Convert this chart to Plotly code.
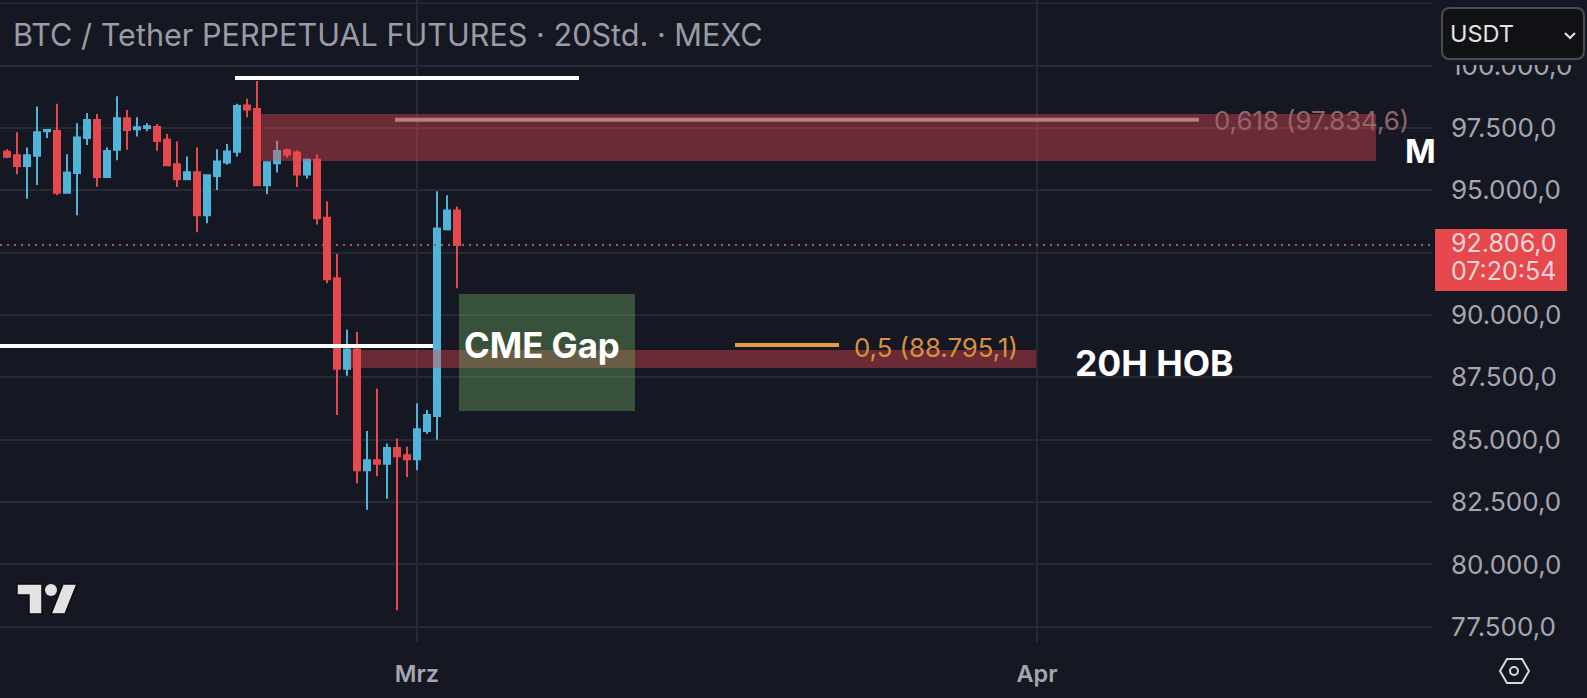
import pandas as pd
import plotly.graph_objects as go

W, H = 1587, 698
PLOT_R, PLOT_B = 1432, 642

opens  = [96546,96411,95981,96384,97366,97379,94906,95699,97097,97823,95538,96626,97890,97446,97500,97540,97030,96048,95444,95726,94006,95578,96116,96546,98400,98266,95202,96089,96613,96519,95632,96223,93898,91479,87850,88616,83777,84180,84033,84664,84382,84221,85350,85955,93441,94194]
highs  = [96653,97325,96720,98360,97460,98468,96452,97688,98105,98064,96720,98777,98226,97930,97688,97661,97258,96962,96358,96720,95605,96653,96855,98468,98669,99385,96129,96989,96680,96613,96277,96452,94557,92447,89422,89328,85350,87043,84852,85054,84718,86465,86196,94960,94799,94355]
lows   = [96290,95645,94664,95215,97097,94799,94880,94006,96815,95148,95538,96210,96626,97164,97366,96586,96008,95135,95444,93320,93683,95014,96022,96358,97930,95202,94839,95712,96317,95135,95471,93629,91277,85995,87567,83240,82191,83535,82635,78159,83508,83777,85229,85000,93441,91076]
closes = [96344,95981,96411,97325,97420,94906,95712,97124,97823,95538,96573,97890,97419,97527,97567,96976,96008,95444,95726,94006,95605,96156,96559,98387,98239,95202,96129,96573,96438,95632,96223,93885,91439,87850,88616,83777,84180,84033,84664,84342,84221,85417,85995,93468,94194,92806]
dates = pd.date_range("2025-02-08 12:00", periods=len(opens), freq="12h")

x_range = ["2025-02-08 03:36", "2025-04-20 18:00"]
y_range = [76889, 102633]
price_ticks = [77500, 80000, 82500, 85000, 87500, 90000, 92500, 95000, 97500, 100000]
price_labels = ["77.500,0", "80.000,0", "82.500,0", "85.000,0", "87.500,0", "90.000,0", "", "95.000,0", "97.500,0", "100.000,0"]
month_ticks = ["2025-03-01", "2025-04-01"]
month_labels = ["Mrz", "Apr"]

upper_zone = ["2025-02-21 01:12", "2025-04-17 22:48", 96177, 98061]
lower_zone = ["2025-02-25 15:36", "2025-03-31 22:48", 87876, 88598]
gap_zone = ["2025-03-03 02:24", "2025-03-11 21:36", 86152, 90843]
top_line = ["2025-02-19 21:36", "2025-03-09 02:24", 99505]
left_line = ["2025-02-08 03:36", "2025-03-01 19:12", 88758]
fib_618 = ["2025-02-27 21:36", "2025-04-09 02:24", 97834.6]
fib_500 = ["2025-03-16 21:36", "2025-03-22 02:24", 88795.1]
last_price = 92806

BG = "#151722"
GRID = "#272a35"
RED = "#e5484d"
BLUE = "#50b4d8"
FONT = "Inter, sans-serif"


def px(x, y):
    return x / PLOT_R, 1 - y / PLOT_B


def poly(points):
    return "M" + " L".join("%.5f,%.5f" % px(*p) for p in points) + " Z"


def box(z, fill):
    return dict(type="rect", xref="x", yref="y", x0=z[0], x1=z[1], y0=z[2], y1=z[3],
                fillcolor=fill, line_width=0, layer="above")


def seg(l, color, width, dash="solid"):
    return dict(type="line", xref="x", yref="y", x0=l[0], x1=l[1], y0=l[2], y1=l[2],
                line=dict(color=color, width=width, dash=dash), layer="above")


def label(x, y, text, size, color, anchor="left", bold=False):
    fx, fy = px(x, y)
    return dict(xref="paper", yref="paper", x=fx, y=fy, text=("<b>%s</b>" % text) if bold else text,
                showarrow=False, xanchor=anchor, yanchor="middle", borderpad=0,
                font=dict(family=FONT, size=size, color=color))


def rpx_shape(**kw):
    return dict(xref="paper", yref="paper", layer="above", **kw)


fig = go.Figure(go.Candlestick(
    x=dates, open=opens, high=highs, low=lows, close=closes,
    increasing=dict(line=dict(color=BLUE, width=2), fillcolor=BLUE),
    decreasing=dict(line=dict(color=RED, width=2), fillcolor=RED),
    hoverinfo="skip", showlegend=False,
))

shapes = [
    seg([x_range[0], x_range[1], 102500], GRID, 1.5),
    seg([x_range[0], x_range[1], last_price], "#a05a70", 2, "2px,5px"),
    box(upper_zone, "rgba(236,73,84,0.40)"),
    box(lower_zone, "rgba(236,73,84,0.40)"),
    box(gap_zone, "rgba(108,170,94,0.40)"),
    seg(top_line, "#ffffff", 4),
    seg(left_line, "#ffffff", 4),
    seg(fib_618, "#b97d84", 4),
    seg(fib_500, "#e49a42", 4),
]

# header strip that cuts off the top price label
x0, y0 = px(1434, 0)
x1, y1 = px(W, 65)
shapes.append(rpx_shape(type="rect", x0=x0, x1=x1, y0=y0, y1=y1, fillcolor=BG, line_width=0))

# price flag
x0, y0 = px(1435, 229)
x1, y1 = px(1567, 291)
shapes.append(rpx_shape(type="rect", x0=x0, x1=x1, y0=y0, y1=y1, fillcolor=RED, line_width=0))

# currency selector
x0, y0 = px(1442, 8)
x1, y1 = px(1584, 59)
rx, ry = 8 / PLOT_R, 8 / PLOT_B
shapes.append(rpx_shape(
    type="path",
    path=f"M{x0+rx},{y0} L{x1-rx},{y0} Q{x1},{y0} {x1},{y0-ry} L{x1},{y1+ry} Q{x1},{y1} {x1-rx},{y1} "
         f"L{x0+rx},{y1} Q{x0},{y1} {x0},{y1+ry} L{x0},{y0-ry} Q{x0},{y0} {x0+rx},{y0} Z",
    fillcolor="#101114", line=dict(color="#4a4c50", width=2)))
shapes.append(rpx_shape(type="path", path="M%.5f,%.5f L%.5f,%.5f L%.5f,%.5f" % (*px(1565, 33), *px(1570, 38), *px(1575, 33)),
                        line=dict(color="#e8e8e8", width=2)))

# logo
logo_edge = dict(color="#0b0b0e", width=1.5)
shapes.append(rpx_shape(type="path", path=poly([(17, 584), (42, 584), (42, 614), (29, 614), (29, 595), (17, 595)]),
                        fillcolor="#e2e2e2", line=logo_edge))
shapes.append(rpx_shape(type="path", path=poly([(63, 584), (77, 584), (65, 614), (51, 614)]),
                        fillcolor="#e2e2e2", line=logo_edge))
x0, y0 = px(45, 584)
x1, y1 = px(57, 596)
shapes.append(rpx_shape(type="circle", x0=x0, x1=x1, y0=y0, y1=y1, fillcolor="#e2e2e2", line_width=0))

# settings hexagon
shapes.append(rpx_shape(type="path", path=poly([(1500, 671), (1507, 659), (1522, 659), (1529, 671), (1522, 683), (1507, 683)]),
                        line=dict(color="#d8d9dc", width=2)))
x0, y0 = px(1510, 667)
x1, y1 = px(1518, 675)
shapes.append(rpx_shape(type="circle", x0=x0, x1=x1, y0=y0, y1=y1, line=dict(color="#d8d9dc", width=2)))

annotations = [
    label(11.5, 34, "BTC / Tether PERPETUAL FUTURES · 20Std. · MEXC", 30.6, "#9a9ca5"),
    label(1449, 33.5, "USDT", 23.5, "#e2e2e2"),
    label(1213, 121, "0,618 (97.834,6)", 25.8, "#93666d"),
    label(853, 347, "0,5 (88.795,1)", 25.8, "#d8923f"),
    label(463, 345, "CME Gap", 34.8, "#ffffff", bold=True),
    label(1074, 363, "20H HOB", 35.5, "#ffffff", bold=True),
    label(1404, 151, "M", 33, "#ffffff", bold=True),
    label(1450, 243, "92.806,0", 25, "#f6d5d7"),
    label(1450, 271, "07:20:54", 25, "#f6d5d7"),
]

fig.update_layout(
    width=W, height=H,
    margin=dict(l=0, r=W - PLOT_R, t=0, b=H - PLOT_B, pad=0),
    paper_bgcolor=BG, plot_bgcolor=BG,
    boxgap=0.4, boxgroupgap=0, showlegend=False, hovermode=False, dragmode=False,
    shapes=shapes, annotations=annotations,
    xaxis=dict(type="date", range=x_range, rangeslider=dict(visible=False),
               tickmode="array", tickvals=month_ticks, ticktext=month_labels,
               showgrid=True, gridcolor=GRID, gridwidth=1.5, zeroline=False, showline=False,
               ticks="", ticklabelstandoff=15, tickangle=0,
               tickfont=dict(family="Inter, sans-serif", size=23.5, color="#a5a6af", weight=600)),
    yaxis=dict(side="right", range=y_range, tickmode="array", tickvals=price_ticks, ticktext=price_labels,
               showgrid=True, gridcolor=GRID, gridwidth=1.5, zeroline=False, showline=False,
               ticks="", ticklabelstandoff=18,
               tickfont=dict(family=FONT, size=26, color="#a5a6af")),
    font=dict(family=FONT),
)

fig.write_html("out.html", config=dict(displayModeBar=False),
               post_script="document.body.style.margin='0';document.body.style.overflow='hidden';document.body.style.background='#151722';")
